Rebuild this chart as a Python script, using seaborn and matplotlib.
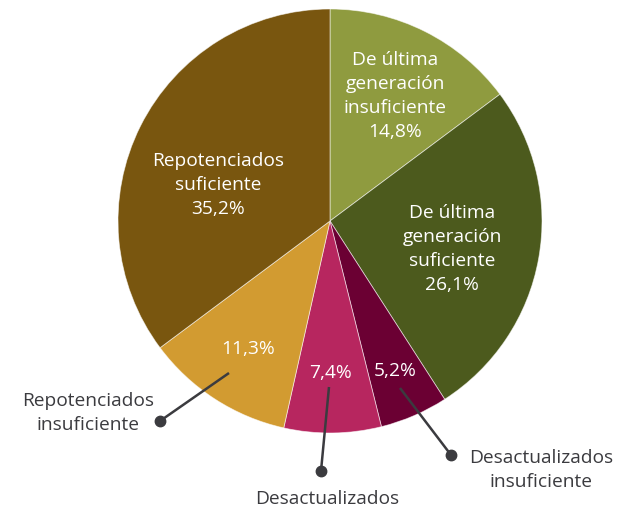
import matplotlib
matplotlib.use("Agg")
import matplotlib.pyplot as plt
import seaborn as sns

# Shares of equipment by category (percent), clockwise from 12 o'clock
categories = [
    "De última generación insuficiente",
    "De última generación suficiente",
    "Desactualizados insuficiente",
    "Desactualizados",
    "Repotenciados insuficiente",
    "Repotenciados suficiente",
]
values = [14.8, 26.1, 5.2, 7.4, 11.3, 35.2]
colors = ["#8f9b3f", "#4c5a1d", "#6b0033", "#b7265f", "#d29b31", "#79560f"]

sns.set_theme(style="white")
plt.rcParams["font.family"] = ["Open Sans", "DejaVu Sans"]

W, H = 618, 510
fig = plt.figure(figsize=(W / 100, H / 100), dpi=100)
ax = fig.add_axes([0, 0, 1, 1])

cx, cy, r = 330, H - 222, 212
ax.pie(values, colors=colors, startangle=90, counterclock=False,
       center=(cx, cy), radius=r,
       wedgeprops=dict(edgecolor=(1, 1, 1, 0.6), linewidth=0.6))
ax.set_xlim(0, W)
ax.set_ylim(0, H)
ax.set_aspect("equal")
ax.axis("off")


def pct(v):
    return f"{v:.1f}".replace(".", ",") + "%"


fs = 13.8
ls = 1.45
white = "#ffffff"
dark = "#3b3b3f"

# In-slice labels (pixel positions measured from the top)
ax.text(395, H - 96, "De última\ngeneración\ninsuficiente\n" + pct(values[0]),
        ha="center", va="center", color=white, fontsize=fs, linespacing=ls)
ax.text(452, H - 249, "De última\ngeneración\nsuficiente\n" + pct(values[1]),
        ha="center", va="center", color=white, fontsize=fs, linespacing=ls)
ax.text(218, H - 185, "Repotenciados\nsuficiente\n" + pct(values[5]),
        ha="center", va="center", color=white, fontsize=fs, linespacing=ls)
ax.text(248, H - 349, pct(values[4]), ha="center", va="center",
        color=white, fontsize=fs)
ax.text(330, H - 373, pct(values[3]), ha="center", va="center",
        color=white, fontsize=fs)
ax.text(395, H - 371, pct(values[2]), ha="center", va="center",
        color=white, fontsize=fs)

# Leader lines with end dots
leaders = [
    ((229, 374), (160, 422)),
    ((329, 388), (321, 472)),
    ((400, 389), (451, 456)),
]
for (x0, y0), (x1, y1) in leaders:
    ax.plot([x0, x1], [H - y0, H - y1], color=dark, lw=1.8,
            solid_capstyle="butt")
    ax.plot([x1], [H - y1], "o", color=dark, ms=7.5)

ax.text(88, H - 413, "Repotenciados\ninsuficiente", ha="center", va="center",
        color=dark, fontsize=fs, linespacing=ls)
ax.text(327, H - 499, "Desactualizados", ha="center", va="center",
        color=dark, fontsize=fs)
ax.text(541, H - 470, "Desactualizados\ninsuficiente", ha="center",
        va="center", color=dark, fontsize=fs, linespacing=ls)

fig.savefig("out.png", dpi=100, facecolor="white")
